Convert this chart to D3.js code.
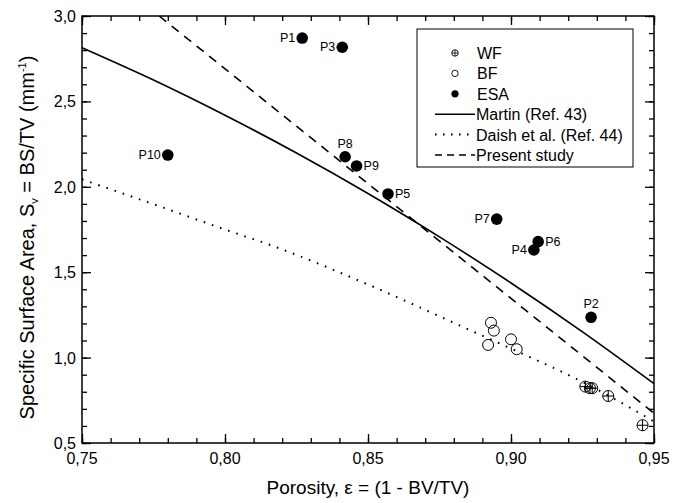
<!DOCTYPE html>
<html><head><meta charset="utf-8">
<script src="https://cdn.jsdelivr.net/npm/d3@7"></script>
<style>body{margin:0;background:#fff;} text{font-family:"Liberation Sans",Arial,sans-serif;}</style>
</head><body>
<script>
// ---- data ----
const esaLabels = ["P1","P2","P3","P4","P5","P6","P7","P8","P9","P10"];
const esaX = [0.827,0.928,0.841,0.908,0.857,0.9095,0.895,0.842,0.846,0.780];
const esaY = [2.871,1.236,2.817,1.630,1.958,1.679,1.811,2.176,2.122,2.186];
const esaLabelSide = ["left","top","left","left","right","right","left","top","right","left"];
const bfX = [0.893,0.894,0.892,0.900,0.902];
const bfY = [1.204,1.158,1.074,1.107,1.049];
const wfX = [0.926,0.9276,0.9284,0.934,0.946];
const wfY = [0.830,0.821,0.821,0.775,0.604];
const martinX = [0.75,0.775,0.80,0.825,0.85,0.875,0.90,0.925,0.95];
const martinY = [2.814,2.625,2.419,2.198,1.961,1.707,1.437,1.151,0.848];
const daishX = [0.75,0.775,0.80,0.8175,0.85,0.883,0.90,0.926,0.95];
const daishY = [2.044,1.898,1.750,1.649,1.428,1.181,1.053,0.849,0.626];
const presentX = [0.777,0.95];
const presentY = [3.0,0.674];
const xTicks = [0.75,0.80,0.85,0.90,0.95];
const yTicks = [0.5,1.0,1.5,2.0,2.5,3.0];
const legendNames = ["WF","BF","ESA","Martin (Ref. 43)","Daish et al. (Ref. 44)","Present study"];

const W=686,H=503, L=82,R=654,T=16,B=443;
const svg=d3.select("body").append("svg").attr("width",W).attr("height",H);
const x=d3.scaleLinear().domain([0.75,0.95]).range([L,R]);
const y=d3.scaleLinear().domain([0.5,3.0]).range([B,T]);
const fmt=d=>d3.format(".2f")(d).replace(".",",");
const fmtY=d=>d3.format(".1f")(d).replace(".",",");

const minorX=d3.range(75,96).map(v=>v/100);
const minorY=d3.range(5,31).map(v=>v/10);
function ticks(g,axisFn,scale,major,minor){
  g.call(axisFn(scale).tickValues(minor).tickSize(5).tickFormat("")).call(s=>s.select(".domain").remove());
  g.append("g").call(axisFn(scale).tickValues(major).tickSize(9).tickFormat("")).call(s=>s.select(".domain").remove());
  g.selectAll("line").attr("stroke","#000").attr("stroke-width",1.3);
}
// inward ticks
ticks(svg.append("g").attr("transform",`translate(0,${B})`),d3.axisTop,x,xTicks,minorX);
ticks(svg.append("g").attr("transform",`translate(0,${T})`),d3.axisBottom,x,xTicks,minorX);
ticks(svg.append("g").attr("transform",`translate(${L},0)`),d3.axisRight,y,yTicks,minorY);
ticks(svg.append("g").attr("transform",`translate(${R},0)`),d3.axisLeft,y,yTicks,minorY);
svg.append("rect").attr("x",L).attr("y",T).attr("width",R-L).attr("height",B-T)
  .attr("fill","none").attr("stroke","#000").attr("stroke-width",1.5);

svg.append("g").selectAll("text").data(xTicks).join("text")
  .attr("x",d=>x(d)).attr("y",B+21).attr("text-anchor","middle").attr("font-size",16).text(fmt);
svg.append("g").selectAll("text").data(yTicks).join("text")
  .attr("x",L-6).attr("y",d=>y(d)+6).attr("text-anchor","end").attr("font-size",16).text(fmtY);

// titles
svg.append("text").attr("x",(L+R)/2).attr("y",494).attr("text-anchor","middle").attr("font-size",19)
  .text("Porosity, ε = (1 - BV/TV)");
const yt=svg.append("text").attr("transform",`translate(34,${(T+B)/2+8}) rotate(-90)`).attr("text-anchor","middle").attr("font-size",20);
yt.append("tspan").text("Specific Surface Area, S");
yt.append("tspan").attr("font-size",11).attr("dy",4).text("v");
yt.append("tspan").attr("dy",-4).text(" = BS/TV (mm");
yt.append("tspan").attr("font-size",11).attr("dy",-8).text("-1");
yt.append("tspan").attr("dy",8).text(")");

const plot=svg.append("g");
const line=d3.line().x(d=>x(d[0])).y(d=>y(d[1]));
const zip=(a,b)=>a.map((v,i)=>[v,b[i]]);
plot.append("path").datum(zip(martinX,martinY)).attr("d",line.curve(d3.curveMonotoneX))
  .attr("fill","none").attr("stroke","#000").attr("stroke-width",1.6);
plot.append("path").datum(zip(daishX,daishY)).attr("d",line.curve(d3.curveMonotoneX))
  .attr("fill","none").attr("stroke","#000").attr("stroke-width",2).attr("stroke-dasharray","1.6,7")
  .attr("stroke-linecap","butt");
plot.append("path").datum(zip(presentX,presentY)).attr("d",line.curve(d3.curveLinear))
  .attr("fill","none").attr("stroke","#000").attr("stroke-width",1.6).attr("stroke-dasharray","9,7");

// BF
plot.append("g").selectAll("circle").data(zip(bfX,bfY)).join("circle")
  .attr("cx",d=>x(d[0])).attr("cy",d=>y(d[1])).attr("r",5.5)
  .attr("fill","none").attr("stroke","#000").attr("stroke-width",1);
// WF
const wf=plot.append("g").selectAll("g").data(zip(wfX,wfY)).join("g")
  .attr("transform",d=>`translate(${x(d[0])},${y(d[1])})`);
wf.append("circle").attr("r",5.5).attr("fill","none").attr("stroke","#000").attr("stroke-width",1);
wf.append("path").attr("d","M-5.5,0H5.5M0,-5.5V5.5").attr("stroke","#000").attr("stroke-width",1);
// ESA
const esa=esaLabels.map((l,i)=>({l,x:esaX[i],y:esaY[i],s:esaLabelSide[i]}));
plot.append("g").selectAll("circle").data(esa).join("circle")
  .attr("cx",d=>x(d.x)).attr("cy",d=>y(d.y)).attr("r",5.8).attr("fill","#000");
plot.append("g").selectAll("text").data(esa).join("text")
  .attr("font-size",12.5)
  .attr("x",d=>x(d.x)+(d.s==="left"?-7:d.s==="right"?7:0))
  .attr("y",d=>y(d.y)+(d.s==="top"?-9:4))
  .attr("text-anchor",d=>d.s==="left"?"end":d.s==="right"?"start":"middle")
  .text(d=>d.l);

// legend
const lg=svg.append("g");
lg.append("rect").attr("x",417).attr("y",29).attr("width",216).attr("height",138)
  .attr("fill","#fff").attr("stroke","#000").attr("stroke-width",1);
const ly=i=>53+i*20.4;
const sx=455;
const w0=lg.append("g").attr("transform",`translate(${sx},${ly(0)})`);
w0.append("circle").attr("r",3.2).attr("fill","none").attr("stroke","#000").attr("stroke-width",0.9);
w0.append("path").attr("d","M-3.2,0H3.2M0,-3.2V3.2").attr("stroke","#000").attr("stroke-width",0.8);
lg.append("circle").attr("cx",sx).attr("cy",ly(1)).attr("r",3.2).attr("fill","none").attr("stroke","#000").attr("stroke-width",0.9);
lg.append("circle").attr("cx",sx).attr("cy",ly(2)).attr("r",3.6).attr("fill","#000");
lg.append("line").attr("x1",435).attr("x2",475).attr("y1",ly(3)).attr("y2",ly(3)).attr("stroke","#000").attr("stroke-width",1.6);
lg.append("line").attr("x1",435).attr("x2",475).attr("y1",ly(4)).attr("y2",ly(4)).attr("stroke","#000").attr("stroke-width",2).attr("stroke-dasharray","1.6,6.4");
lg.append("line").attr("x1",435).attr("x2",475).attr("y1",ly(5)).attr("y2",ly(5)).attr("stroke","#000").attr("stroke-width",1.6).attr("stroke-dasharray","7,5");
lg.selectAll("text.lg").data(legendNames).join("text").attr("class","lg")
  .attr("x",(d,i)=>i<3?477:476).attr("y",(d,i)=>ly(i)+6).attr("font-size",16).text(d=>d);
</script>
</body></html>
